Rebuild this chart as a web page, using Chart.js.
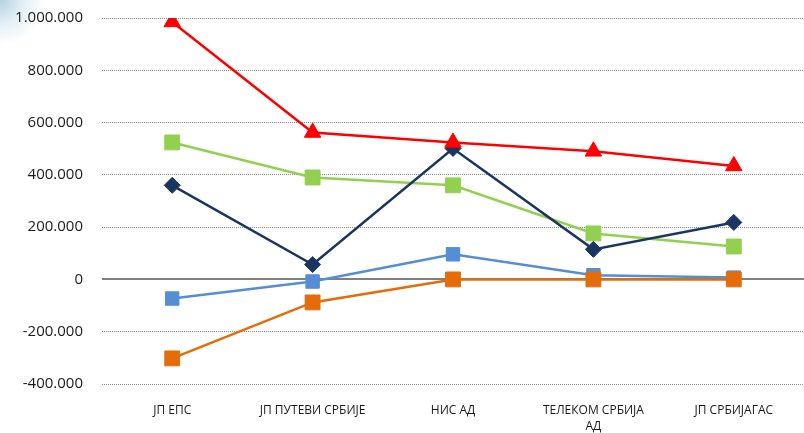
<!DOCTYPE html>
<html>
<head>
<meta charset="utf-8">
<script src="https://cdn.jsdelivr.net/npm/chart.js@4/dist/chart.umd.min.js"></script>
<style>
  html, body { margin: 0; padding: 0; background: #fff; }
  body {
    width: 804px; height: 433px; overflow: hidden;
    background: radial-gradient(circle at 0 0, rgba(120,170,200,0.55) 0, rgba(170,205,225,0.35) 22px, rgba(255,255,255,0) 45px), #fff;
  }
  #wrap { position: relative; width: 804px; height: 433px; }
</style>
</head>
<body>
<div id="wrap"><canvas id="grafico"></canvas></div>
<script>
  const kategorije = ['ЈП ЕПС', 'ЈП ПУТЕВИ СРБИЈЕ', 'НИС АД', ['ТЕЛЕКОМ СРБИЈА', 'АД'], 'ЈП СРБИЈАГАС'];
  const crvena = [985000, 562000, 524000, 490000, 434000];
  const narandzasta = [-302000, -88000, 0, 0, 0];
  const plava = [-73000, -8000, 96000, 16000, 7000];
  const tamnoplava = [360000, 57000, 501000, 115000, 218000];
  const zelena = [524000, 390000, 360000, 176000, 126000];
  const yMin = -400000, yMax = 1000000, yKorak = 200000;

  const ctx = document.getElementById('grafico').getContext('2d');

  function serija(data, boja, stil, r) {
    return {
      data: data,
      borderColor: boja,
      backgroundColor: boja,
      pointBackgroundColor: boja,
      pointBorderColor: boja,
      pointBorderWidth: 1,
      pointStyle: stil,
      pointRadius: r,
      pointHoverRadius: r,
      borderWidth: 2.5,
      tension: 0,
      fill: false
    };
  }

  const fmt = v => v.toLocaleString('de-DE');

  new Chart(ctx, {
    type: 'line',
    data: {
      labels: kategorije,
      datasets: [
        serija(crvena, '#ff0000', 'triangle', 9.5),
        serija(narandzasta, '#e46c0a', 'rect', 10.5),
        serija(plava, '#558ed5', 'rect', 9.5),
        serija(tamnoplava, '#1a3660', 'rectRot', 8),
        serija(zelena, '#92d050', 'rect', 10.5)
      ]
    },
    options: {
      responsive: true,
      maintainAspectRatio: false,
      animation: false,
      layout: { autoPadding: false, padding: { top: 18, right: 0, bottom: 0, left: 0 } },
      plugins: { legend: { display: false }, tooltip: { enabled: false } },
      scales: {
        x: {
          offset: true,
          grid: { display: false, drawTicks: false },
          border: { display: false },
          ticks: {
            color: '#1a1a1a',
            font: { family: 'Open Sans', size: 12, lineHeight: 1.3 },
            padding: 19,
            maxRotation: 0,
            autoSkip: false
          },
          afterFit: s => { s.height = 49; s.paddingLeft = 0; s.paddingRight = 0; }
        },
        y: {
          min: yMin,
          max: yMax,
          grid: {
            drawTicks: false,
            color: c => (c.tick && c.tick.value === 0) ? '#808080' : '#8c8c8c',
            lineWidth: c => (c.tick && c.tick.value === 0) ? 2 : 1
          },
          border: {
            display: false,
            dash: c => (c.tick && c.tick.value === 0) ? [] : [1, 1]
          },
          ticks: {
            stepSize: yKorak,
            color: '#1a1a1a',
            font: { family: 'Open Sans', size: 15 },
            padding: 19,
            callback: v => fmt(v)
          },
          afterFit: s => { s.width = 102; s.paddingTop = 0; s.paddingBottom = 0; }
        }
      }
    }
  });
</script>
</body>
</html>
